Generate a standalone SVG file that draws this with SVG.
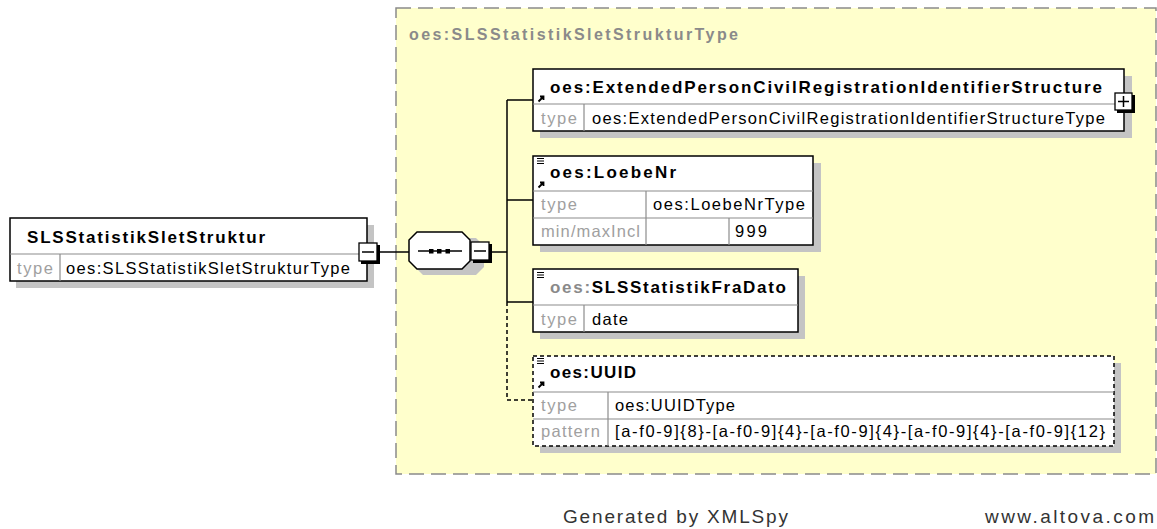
<svg xmlns="http://www.w3.org/2000/svg" width="1157" height="529" viewBox="0 0 1157 529">
<defs>
<style>
.hdr{font-family:"Liberation Sans",Arial,sans-serif;font-size:17px;font-weight:bold;fill:#000}
.ttl{font-family:"Liberation Sans",Arial,sans-serif;font-size:16px;font-weight:bold;fill:#8a8a8a}
.lbl{font-family:"Liberation Sans",Arial,sans-serif;font-size:16.5px;fill:#a0a0a0}
.val{font-family:"Liberation Sans",Arial,sans-serif;font-size:16.5px;fill:#000}
.ftr{font-family:"Liberation Sans",Arial,sans-serif;font-size:19px;fill:#333}
.box{fill:#fff;stroke:#000;stroke-width:1.5}
.dbox{fill:#fff;stroke:#000;stroke-width:1.5;stroke-dasharray:4,3}
.shd{fill:#c4c4c4}
.sep{stroke:#8c8c8c;stroke-width:1.2}
.con{stroke:#000;stroke-width:1.5;fill:none}
.dcon{stroke:#000;stroke-width:1.5;fill:none;stroke-dasharray:4,3}
.btn{fill:#fff;stroke:#000;stroke-width:1.3}
</style>
<g id="ref">
<path d="M1.5,6.5 L6.5,1.5 M3,1.5 H6.5 V5" stroke="#000" stroke-width="1.8" fill="none"/>
</g>
<g id="doc">
<path d="M0,0.5 H7 M0,3 H7 M0,5.5 H7" stroke="#000" stroke-width="1"/>
</g>
</defs>

<rect width="1157" height="529" fill="#fff"/>

<g id="frame">
<rect x="396" y="8" width="760" height="466" fill="#ffffcc" stroke="#8a8a8a" stroke-width="1.5" stroke-dasharray="15,7"/>
<text class="ttl" x="409" y="40" textLength="329">oes:SLSStatistikSletStrukturType</text>
</g>

<g id="connectors">
<line class="con" x1="378" y1="252" x2="409" y2="252"/>
<line class="con" x1="490" y1="252" x2="507" y2="252"/>
<line class="con" x1="507" y1="100" x2="507" y2="302"/>
<line class="con" x1="507" y1="100" x2="533" y2="100"/>
<line class="con" x1="507" y1="200" x2="533" y2="200"/>
<line class="con" x1="507" y1="302" x2="533" y2="302"/>
<path class="dcon" d="M507,302 V400 H533"/>
</g>

<g id="node-main">
<rect class="shd" x="16" y="225" width="358" height="63"/>
<rect class="box" x="10" y="218" width="357" height="63"/>
<line class="sep" x1="10" y1="254" x2="367" y2="254"/>
<line class="sep" x1="60" y1="254" x2="60" y2="281"/>
<text class="hdr" x="27" y="243" textLength="238">SLSStatistikSletStruktur</text>
<text class="lbl" x="17" y="274" textLength="36">type</text>
<text class="val" x="66" y="274" textLength="284">oes:SLSStatistikSletStrukturType</text>
<rect x="361" y="245" width="19" height="19" fill="#000"/>
<rect class="btn" x="359" y="243" width="18" height="18"/>
<line x1="362" y1="252" x2="374" y2="252" stroke="#000" stroke-width="1.5"/>
</g>

<g id="node-sequence">
<path class="shd" d="M423,238 H476 L484,246 V267 L476,275 H423 L415,267 V246 Z"/>
<path d="M417,232 H462 L470,240 V261 L462,269 H417 L409,261 V240 Z" fill="#fff" stroke="#000" stroke-width="1.5"/>
<line x1="418" y1="251" x2="462" y2="251" stroke="#000" stroke-width="1.5"/>
<rect x="429" y="249" width="4.5" height="4.5" fill="#000"/>
<rect x="437" y="249" width="4.5" height="4.5" fill="#000"/>
<rect x="445.5" y="249" width="4.5" height="4.5" fill="#000"/>
<rect x="473" y="244" width="19" height="19" fill="#000"/>
<rect class="btn" x="471" y="242" width="18" height="18"/>
<line x1="474" y1="251" x2="486" y2="251" stroke="#000" stroke-width="1.5"/>
</g>

<g id="node-extended">
<rect class="shd" x="540" y="76" width="592" height="62"/>
<rect class="box" x="533" y="69" width="591" height="62"/>
<line class="sep" x1="533" y1="104" x2="1124" y2="104"/>
<line class="sep" x1="584" y1="104" x2="584" y2="131"/>
<use href="#ref" x="537" y="95"/>
<text class="hdr" x="550" y="93" textLength="552">oes:ExtendedPersonCivilRegistrationIdentifierStructure</text>
<text class="lbl" x="541" y="124" textLength="36">type</text>
<text class="val" x="592" y="124" textLength="513">oes:ExtendedPersonCivilRegistrationIdentifierStructureType</text>
<rect x="1117" y="95" width="18" height="18" fill="#000"/>
<rect class="btn" x="1115" y="93" width="17" height="17"/>
<line x1="1118" y1="101.5" x2="1129" y2="101.5" stroke="#000" stroke-width="1.5"/>
<line x1="1123.5" y1="96" x2="1123.5" y2="107" stroke="#000" stroke-width="1.5"/>
</g>

<g id="node-loebenr">
<rect class="shd" x="540" y="163" width="281" height="89"/>
<rect class="box" x="533" y="156" width="280" height="89"/>
<line class="sep" x1="533" y1="191" x2="813" y2="191"/>
<line class="sep" x1="533" y1="218" x2="813" y2="218"/>
<line class="sep" x1="646" y1="191" x2="646" y2="245"/>
<line class="sep" x1="729" y1="218" x2="729" y2="245"/>
<use href="#doc" x="537" y="158"/>
<use href="#ref" x="537" y="181"/>
<text class="hdr" x="550" y="178" textLength="126">oes:LoebeNr</text>
<text class="lbl" x="541" y="210" textLength="36">type</text>
<text class="val" x="653" y="210" textLength="152">oes:LoebeNrType</text>
<text class="lbl" x="541" y="237" textLength="99">min/maxIncl</text>
<text class="val" x="735" y="237" textLength="32">999</text>
</g>

<g id="node-fradato">
<rect class="shd" x="540" y="276" width="265" height="63"/>
<rect class="box" x="533" y="269" width="265" height="63"/>
<line class="sep" x1="533" y1="305" x2="798" y2="305"/>
<line class="sep" x1="584" y1="305" x2="584" y2="332"/>
<use href="#doc" x="537" y="272"/>
<text class="hdr" x="550" y="293" textLength="236"><tspan fill="#8a8a8a">oes:</tspan>SLSStatistikFraDato</text>
<text class="lbl" x="541" y="325" textLength="36">type</text>
<text class="val" x="592" y="325" textLength="36">date</text>
</g>

<g id="node-uuid">
<rect class="shd" x="540" y="363" width="581" height="90"/>
<rect class="dbox" x="533" y="356" width="581" height="90"/>
<line class="sep" x1="533" y1="392" x2="1114" y2="392"/>
<line class="sep" x1="533" y1="419" x2="1114" y2="419"/>
<line class="sep" x1="608" y1="392" x2="608" y2="446"/>
<use href="#doc" x="537" y="358"/>
<use href="#ref" x="537" y="381"/>
<text class="hdr" x="550" y="378" textLength="86">oes:UUID</text>
<text class="lbl" x="541" y="411" textLength="36">type</text>
<text class="val" x="615" y="411" textLength="120">oes:UUIDType</text>
<text class="lbl" x="541" y="437" textLength="59">pattern</text>
<text class="val" x="615" y="437" textLength="490">[a-f0-9]{8}-[a-f0-9]{4}-[a-f0-9]{4}-[a-f0-9]{4}-[a-f0-9]{12}</text>
</g>

<g id="footer">
<text class="ftr" x="563" y="523" textLength="225">Generated by XMLSpy</text>
<text class="ftr" x="985" y="523" textLength="169">www.altova.com</text>
</g>
</svg>
